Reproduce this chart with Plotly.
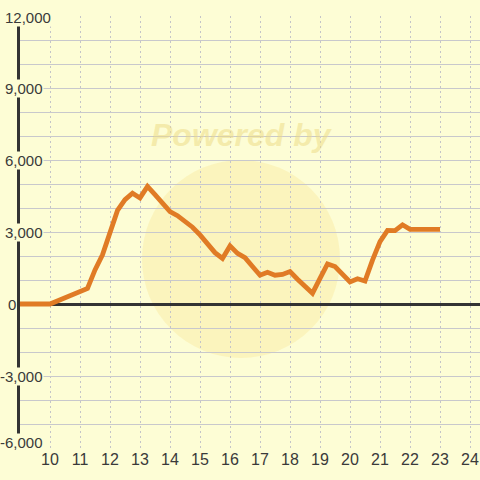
import plotly.graph_objects as go

# ---- data ----
hours = [9.0, 10.0, 11.25, 11.5, 11.75, 12.0, 12.25, 12.5, 12.75, 13.0, 13.25, 13.5, 13.75,
         14.0, 14.25, 14.5, 14.75, 15.0, 15.25, 15.5, 15.75, 16.0, 16.25, 16.5, 16.75,
         17.0, 17.25, 17.5, 17.75, 18.0, 18.25, 18.5, 18.75, 19.0, 19.25, 19.5, 19.75,
         20.0, 20.25, 20.5, 20.75, 21.0, 21.25, 21.5, 21.75, 22.0, 22.25, 22.5, 22.75, 23.0]
values = [0, 0, 650, 1420, 2050, 3050, 3900, 4350, 4620, 4420, 4900, 4560, 4200,
          3850, 3680, 3450, 3200, 2880, 2500, 2140, 1900, 2420, 2110, 1930, 1560,
          1200, 1320, 1200, 1230, 1350, 1030, 720, 450, 1070, 1670, 1560, 1210,
          920, 1050, 960, 1830, 2600, 3070, 3060, 3300, 3110, 3110, 3110, 3110, 3110]

x_ticks = list(range(10, 25))
x_tick_labels = [str(v) for v in x_ticks]
y_ticks = [-6000, -3000, 0, 3000, 6000, 9000, 12000]
y_tick_labels = ["-6,000", "-3,000", "0", "3,000", "6,000", "9,000", "12,000"]

# ---- style ----
BG = "#FDFDD5"
TXT = "#3a3a3a"
W, H = 480, 480
ML, MR, MT, MB = 20, 0, 16, 32
PW = W - ML - MR
PH = H - MT - MB

def px_to_paper_x(px):
    return (px - ML) / PW

def px_to_paper_y(py):
    return (H - MB - py) / PH

fig = go.Figure()
fig.add_trace(go.Scatter(
    x=hours, y=values, mode="lines",
    line=dict(color="#E07B25", width=4.8),
    hoverinfo="skip", showlegend=False,
))

# y tick labels with background boxes (cover gridlines / axis line)
label_right_px = {"0": 17, "12,000": 52}
label_yshift = {"-6,000": 6, "12,000": -1}
annotations = []
for val, lab in zip(y_ticks, y_tick_labels):
    annotations.append(dict(
        x=px_to_paper_x(label_right_px.get(lab, 44)), xref="paper", xanchor="right",
        y=val, yref="y", yanchor="middle", yshift=label_yshift.get(lab, 0),
        text=lab, showarrow=False, bgcolor=BG, borderpad=0,
        font=dict(family="Liberation Sans, Arial, sans-serif", size=15, color=TXT),
    ))

# faint watermark
annotations.append(dict(
    x=px_to_paper_x(242), xref="paper", xanchor="center",
    y=px_to_paper_y(135), yref="paper", yanchor="middle",
    text="Powered by", showarrow=False,
    font=dict(family="Liberation Sans, Arial, sans-serif", size=32,
              color="rgba(236,218,130,0.5)", weight="bold", style="italic"),
))

shapes = [dict(
    type="circle", xref="paper", yref="paper",
    x0=px_to_paper_x(142), x1=px_to_paper_x(340),
    y0=px_to_paper_y(358), y1=px_to_paper_y(160),
    fillcolor="rgba(250,228,140,0.32)", line=dict(width=0), layer="below",
)]

fig.update_layout(
    width=W, height=H,
    margin=dict(l=ML, r=MR, t=MT, b=MB, pad=0, autoexpand=False),
    paper_bgcolor=BG, plot_bgcolor=BG,
    annotations=annotations, shapes=shapes,
    xaxis=dict(
        range=[9, 9 + PW / 30.0], tickvals=x_ticks, ticktext=x_tick_labels,
        showgrid=True, gridcolor="#C4C4C8", griddash="2px,3px", gridwidth=1,
        zeroline=False, showline=False, ticks="", automargin=False,
        tickfont=dict(family="Liberation Sans, Arial, sans-serif", size=16, color=TXT),
        fixedrange=True,
    ),
    yaxis=dict(
        range=[-6000, 12000], dtick=1000, tick0=0,
        showgrid=True, gridcolor="#C8C8CC", gridwidth=1,
        zeroline=True, zerolinecolor="#333333", zerolinewidth=3,
        showline=True, linecolor="#333333", linewidth=3,
        showticklabels=False, ticks="", automargin=False,
        fixedrange=True,
    ),
)

page_js = (
    "document.documentElement.style.margin='0';"
    "document.body.style.margin='0';"
    "document.body.style.padding='0';"
    "document.body.style.overflow='hidden';"
    "document.body.style.background='" + BG + "';"
)
fig.write_html("out.html", post_script=page_js, config={"displayModeBar": False})
